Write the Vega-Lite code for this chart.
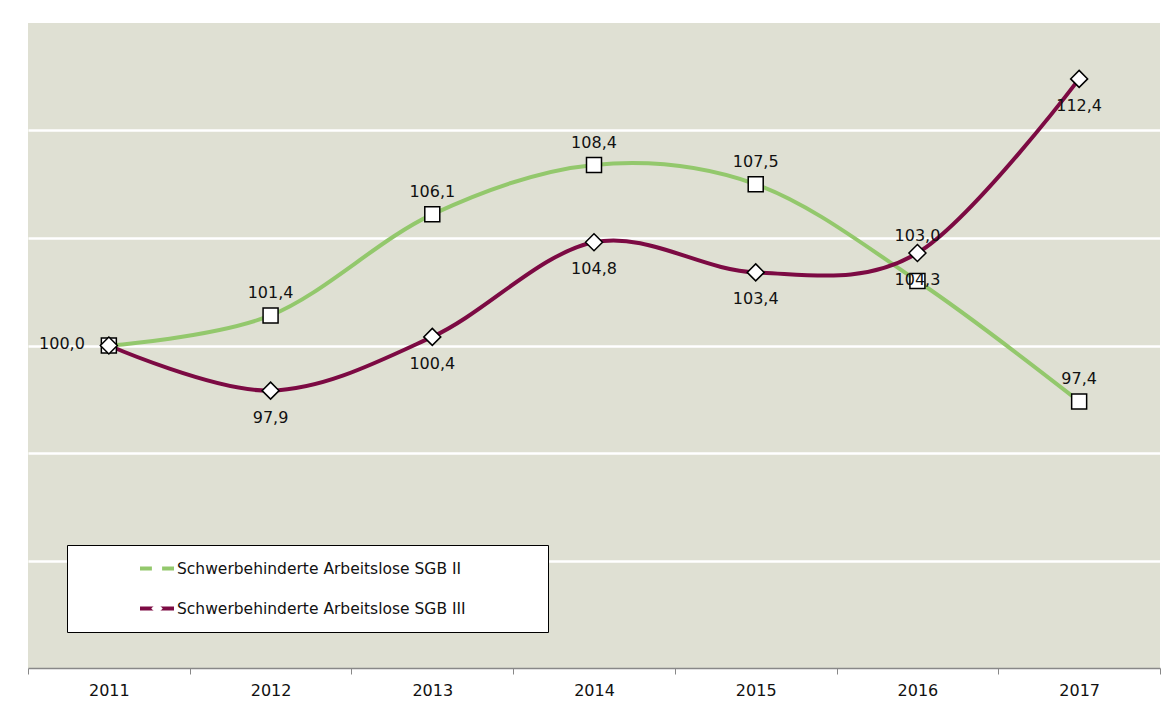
{
  "$schema": "https://vega.github.io/schema/vega-lite/v6.json",
  "width": 1132,
  "height": 645,
  "padding": {"left": 27, "top": 23, "right": 0, "bottom": 0},
  "autosize": {"type": "pad"},
  "background": "white",
  "config": {
    "locale": {"number": {"decimal": ",", "thousands": ".", "grouping": [3], "currency": ["", " €"]}},
    "view": {"fill": "#dfe0d3", "stroke": null},
    "font": "DejaVu Sans",
    "legend": {"symbolBaseFillColor": "white", "symbolBaseStrokeColor": "black"}
  },
  "data": {
    "values": [
      {"year": 2011, "series": "Schwerbehinderte Arbeitslose SGB II", "value": 100.0},
      {"year": 2012, "series": "Schwerbehinderte Arbeitslose SGB II", "value": 101.4},
      {"year": 2013, "series": "Schwerbehinderte Arbeitslose SGB II", "value": 106.1},
      {"year": 2014, "series": "Schwerbehinderte Arbeitslose SGB II", "value": 108.4},
      {"year": 2015, "series": "Schwerbehinderte Arbeitslose SGB II", "value": 107.5},
      {"year": 2016, "series": "Schwerbehinderte Arbeitslose SGB II", "value": 103.0},
      {"year": 2017, "series": "Schwerbehinderte Arbeitslose SGB II", "value": 97.4},
      {"year": 2011, "series": "Schwerbehinderte Arbeitslose SGB III", "value": 100.0},
      {"year": 2012, "series": "Schwerbehinderte Arbeitslose SGB III", "value": 97.9},
      {"year": 2013, "series": "Schwerbehinderte Arbeitslose SGB III", "value": 100.4},
      {"year": 2014, "series": "Schwerbehinderte Arbeitslose SGB III", "value": 104.8},
      {"year": 2015, "series": "Schwerbehinderte Arbeitslose SGB III", "value": 103.4},
      {"year": 2016, "series": "Schwerbehinderte Arbeitslose SGB III", "value": 104.3},
      {"year": 2017, "series": "Schwerbehinderte Arbeitslose SGB III", "value": 112.4}
    ]
  },
  "encoding": {
    "x": {
      "field": "year", "type": "ordinal",
      "scale": {"type": "band", "paddingInner": 0, "paddingOuter": 0},
      "axis": {"title": null, "labelAngle": 0, "tickBand": "extent", "domainColor": "#888888", "tickColor": "#888888", "tickSize": 6, "domainWidth": 1.5, "labelFontSize": 16, "labelColor": "#111111", "labelPadding": 8, "grid": false}
    },
    "y": {
      "field": "value", "type": "quantitative",
      "scale": {"domain": [85, 115], "nice": false, "zero": false},
      "axis": {"title": null, "labels": false, "ticks": false, "domain": false, "grid": true, "gridColor": "white", "gridWidth": 2.5, "values": [90, 95, 100, 105, 110]}
    }
  },
  "layer": [
    {
      "mark": {"type": "line", "interpolate": "cardinal", "strokeWidth": 4},
      "encoding": {
        "color": {
          "field": "series", "type": "nominal",
          "scale": {"range": ["#93c86c", "#7c0a43"]},
          "legend": {"orient": "none", "legendX": 39, "legendY": 522, "padding": 11.5, "clipHeight": 24, "symbolType": "stroke", "symbolStrokeWidth": 4, "symbolSize": 1156, "symbolOffset": 59.5, "labelOffset": 1, "rowPadding": 16, "fillColor": "white", "strokeColor": "black", "title": ".", "titleOrient": "right", "titleColor": "transparent", "titleFontSize": 1, "titlePadding": 70, "labelFontSize": 15.5, "labelLimit": 600, "labelColor": "#111111", "zindex": 1}
        }
      }
    },
    {
      "mark": {"type": "point", "filled": false, "fill": "white", "stroke": "black", "strokeWidth": 1.5, "size": 2500, "opacity": 1},
      "encoding": {
        "shape": {
          "field": "series", "type": "nominal",
          "scale": {"domain": ["Schwerbehinderte Arbeitslose SGB II", "Schwerbehinderte Arbeitslose SGB III"], "range": ["M-0.3,-0.3L0.3,-0.3L0.3,0.3L-0.3,0.3Z", "M0,-0.34L0.34,0L0,0.34L-0.34,0Z"]},
          "legend": {"orient": "none", "legendX": 39, "legendY": 522, "padding": 11.5, "clipHeight": 24, "symbolSize": 1156, "symbolOffset": 61, "labelOffset": 1, "rowPadding": 16, "symbolFillColor": "white", "symbolStrokeColor": "black", "symbolStrokeWidth": 1, "labelOpacity": 0, "title": ".", "titleOrient": "right", "titleColor": "transparent", "titleFontSize": 1, "titlePadding": 70, "labelFontSize": 15.5, "labelLimit": 600, "zindex": 2}
        }
      }
    },
    {
      "transform": [{"filter": "datum.series == 'Schwerbehinderte Arbeitslose SGB II' && datum.year != 2011 && datum.year != 2016"}],
      "mark": {"type": "text", "dy": -22, "fontSize": 16, "color": "#111111"},
      "encoding": {"text": {"field": "value", "type": "quantitative", "format": ".1f"}}
    },
    {
      "transform": [{"filter": "datum.series == 'Schwerbehinderte Arbeitslose SGB II' && datum.year == 2016"}],
      "mark": {"type": "text", "dy": -45, "fontSize": 16, "color": "#111111"},
      "encoding": {"text": {"field": "value", "type": "quantitative", "format": ".1f"}}
    },
    {
      "transform": [{"filter": "datum.series == 'Schwerbehinderte Arbeitslose SGB II' && datum.year == 2011"}],
      "mark": {"type": "text", "align": "right", "dx": -24, "dy": -2, "fontSize": 16, "color": "#111111"},
      "encoding": {"text": {"field": "value", "type": "quantitative", "format": ".1f"}}
    },
    {
      "transform": [{"filter": "datum.series == 'Schwerbehinderte Arbeitslose SGB III' && datum.year != 2011"}],
      "mark": {"type": "text", "dy": 27, "fontSize": 16, "color": "#111111"},
      "encoding": {"text": {"field": "value", "type": "quantitative", "format": ".1f"}}
    }
  ]
}
